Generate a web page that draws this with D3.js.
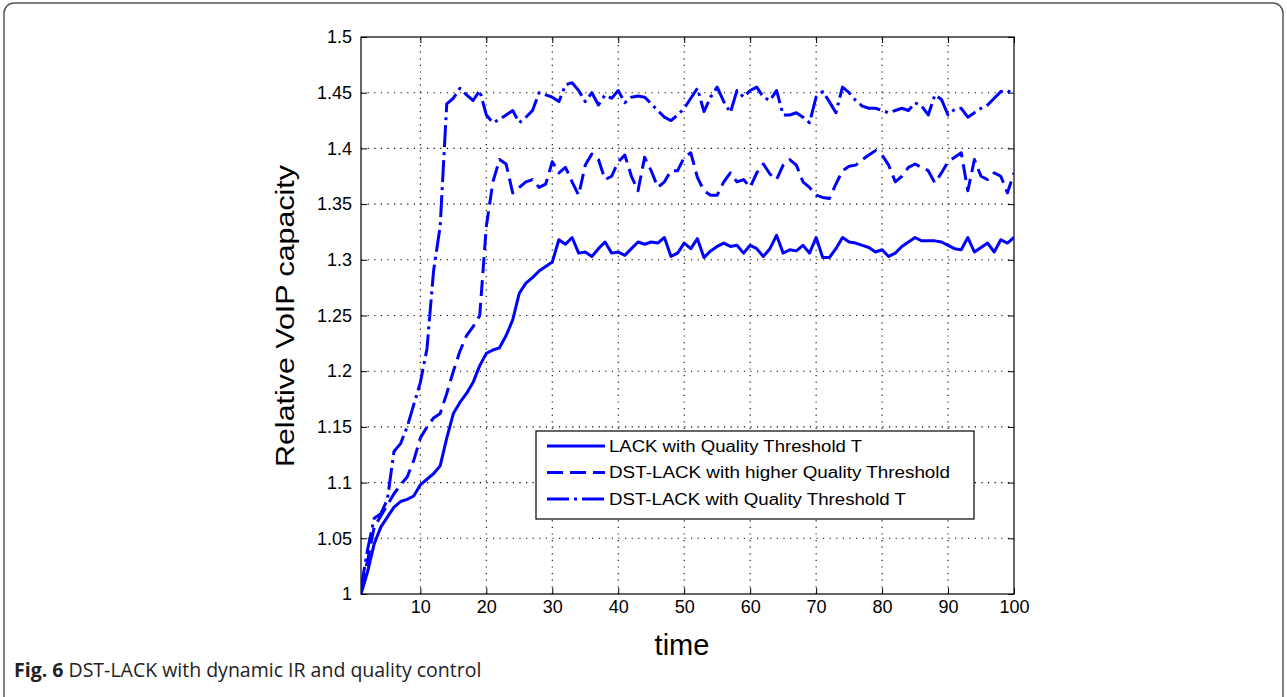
<!DOCTYPE html>
<html>
<head>
<meta charset="utf-8">
<script src="https://cdn.jsdelivr.net/npm/d3@7"></script>
<style>
  body { margin: 0; background: #fff; }
  svg { display: block; }
  .tick text { font-family: Arial, "Liberation Sans", sans-serif; font-size: 18px; fill: #000; }
</style>
</head>
<body>
<svg id="fig" width="1287" height="697"></svg>
<script>
// time steps 1..100
var time = d3.range(1, 101);

// LACK with Quality Threshold T (solid)
var lack = [1.000, 1.020, 1.045, 1.060, 1.069, 1.078, 1.083, 1.085, 1.088, 1.098,
            1.103, 1.108, 1.115, 1.140, 1.162, 1.172, 1.180, 1.190, 1.205, 1.216,
            1.219, 1.221, 1.232, 1.246, 1.270, 1.279, 1.284, 1.290, 1.294, 1.298,
            1.318, 1.314, 1.320, 1.306, 1.307, 1.303, 1.310, 1.316, 1.306, 1.307,
            1.304, 1.310, 1.316, 1.314, 1.316, 1.315, 1.320, 1.303, 1.306, 1.315,
            1.310, 1.319, 1.302, 1.308, 1.312, 1.315, 1.312, 1.313, 1.306, 1.313,
            1.310, 1.303, 1.310, 1.322, 1.306, 1.309, 1.308, 1.313, 1.306, 1.320,
            1.302, 1.302, 1.310, 1.320, 1.316, 1.315, 1.313, 1.311, 1.307, 1.309,
            1.303, 1.306, 1.312, 1.316, 1.320, 1.317, 1.317, 1.317, 1.316, 1.313,
            1.310, 1.309, 1.320, 1.307, 1.311, 1.315, 1.307, 1.318, 1.315, 1.320];

// DST-LACK with higher Quality Threshold (dashed)
var dstHigher = [1.005, 1.030, 1.060, 1.070, 1.080, 1.090, 1.098, 1.105, 1.120, 1.140,
                 1.150, 1.158, 1.162, 1.180, 1.200, 1.218, 1.232, 1.240, 1.250, 1.330,
                 1.370, 1.390, 1.386, 1.360, 1.365, 1.370, 1.372, 1.365, 1.368, 1.388,
                 1.378, 1.383, 1.370, 1.358, 1.385, 1.395, 1.390, 1.372, 1.375, 1.388,
                 1.394, 1.375, 1.362, 1.392, 1.380, 1.365, 1.370, 1.380, 1.380, 1.392,
                 1.396, 1.374, 1.362, 1.358, 1.358, 1.370, 1.378, 1.370, 1.372, 1.365,
                 1.378, 1.386, 1.377, 1.372, 1.385, 1.390, 1.385, 1.370, 1.365, 1.358,
                 1.356, 1.355, 1.368, 1.380, 1.384, 1.385, 1.390, 1.394, 1.398, 1.394,
                 1.385, 1.370, 1.375, 1.383, 1.386, 1.383, 1.380, 1.369, 1.378, 1.388,
                 1.392, 1.396, 1.362, 1.390, 1.375, 1.372, 1.378, 1.375, 1.360, 1.378];

// DST-LACK with Quality Threshold T (dash-dot)
var dstT = [1.005, 1.040, 1.068, 1.072, 1.085, 1.128, 1.135, 1.150, 1.170, 1.190,
            1.220, 1.290, 1.330, 1.440, 1.445, 1.454, 1.448, 1.443, 1.452, 1.430,
            1.423, 1.426, 1.430, 1.434, 1.423, 1.428, 1.434, 1.450, 1.448, 1.446,
            1.442, 1.457, 1.459, 1.452, 1.442, 1.450, 1.439, 1.448, 1.445, 1.452,
            1.441, 1.446, 1.447, 1.446, 1.440, 1.434, 1.428, 1.425, 1.430, 1.436,
            1.445, 1.454, 1.433, 1.446, 1.455, 1.442, 1.432, 1.452, 1.446, 1.452,
            1.455, 1.446, 1.443, 1.452, 1.430, 1.430, 1.432, 1.428, 1.423, 1.446,
            1.451, 1.442, 1.432, 1.455, 1.450, 1.443, 1.438, 1.436, 1.436, 1.434,
            1.432, 1.434, 1.436, 1.434, 1.441, 1.438, 1.430, 1.448, 1.444, 1.430,
            1.435, 1.436, 1.428, 1.432, 1.436, 1.439, 1.445, 1.451, 1.452, 1.448];

var xTicks = [10, 20, 30, 40, 50, 60, 70, 80, 90, 100];
var yTicks = [1, 1.05, 1.1, 1.15, 1.2, 1.25, 1.3, 1.35, 1.4, 1.45, 1.5];
var yTickLabels = ["1", "1.05", "1.1", "1.15", "1.2", "1.25", "1.3", "1.35", "1.4", "1.45", "1.5"];
var legendLabels = ["LACK with Quality Threshold T",
                    "DST-LACK with higher Quality Threshold",
                    "DST-LACK with Quality Threshold T"];

(function(){
    var svg = d3.select('#fig');
    var pLeft = 361, pRight = 1014, pTop = 37, pBottom = 594;
    var blue = '#0000ff';
    var dashes = [null, '16,7', '22,5,3,5'];
    var legendWidths = [253, 341, 297];

    var x = d3.scaleLinear().domain([1, 100]).range([pLeft, pRight]);
    var y = d3.scaleLinear().domain([1, 1.5]).range([pBottom, pTop]);

    // outer figure frame
    svg.append('rect').attr('x', 4).attr('y', 3).attr('width', 1279).attr('height', 704)
        .attr('rx', 10).attr('fill', 'none').attr('stroke', '#555').attr('stroke-width', 1.5);

    // dotted grid
    var grid = svg.append('g').attr('stroke', '#000').attr('stroke-width', 1.1).attr('stroke-dasharray', '1.2,5.4');
    grid.selectAll('.vg').data(xTicks.slice(0, -1)).enter().append('line').attr('class', 'vg')
        .attr('x1', function(d){ return x(d); }).attr('x2', function(d){ return x(d); })
        .attr('y1', pBottom).attr('y2', pTop);
    grid.selectAll('.hg').data(yTicks.slice(1, -1)).enter().append('line').attr('class', 'hg')
        .attr('y1', function(d){ return y(d); }).attr('y2', function(d){ return y(d); })
        .attr('x1', pLeft).attr('x2', pRight);

    // axes, ticks pointing inwards like matlab
    svg.append('g').attr('transform', 'translate(0,' + pBottom + ')')
        .call(d3.axisBottom(x).tickValues(xTicks).tickSizeInner(-6).tickSizeOuter(0).tickPadding(6));
    svg.append('g').attr('transform', 'translate(' + pLeft + ',0)')
        .call(d3.axisLeft(y).tickValues(yTicks).tickSizeInner(-6).tickSizeOuter(0).tickPadding(9)
            .tickFormat(function(d, i){ return yTickLabels[i]; }));
    svg.append('g').attr('transform', 'translate(0,' + pTop + ')')
        .call(d3.axisTop(x).tickValues(xTicks).tickSizeInner(-6).tickSizeOuter(0).tickFormat(''));
    svg.append('g').attr('transform', 'translate(' + pRight + ',0)')
        .call(d3.axisRight(y).tickValues(yTicks).tickSizeInner(-6).tickSizeOuter(0).tickFormat(''));
    svg.selectAll('.domain').remove();
    svg.selectAll('.tick line').attr('stroke', '#000');

    svg.append('rect').attr('x', pLeft).attr('y', pTop).attr('width', pRight - pLeft).attr('height', pBottom - pTop)
        .attr('fill', 'none').attr('stroke', '#000').attr('stroke-width', 1.2);

    // series
    svg.append('clipPath').attr('id', 'clip').append('rect')
        .attr('x', pLeft).attr('y', pTop).attr('width', pRight - pLeft).attr('height', pBottom - pTop);

    var series = [lack, dstHigher, dstT];
    var line = d3.line().x(function(d, i){ return x(time[i]); }).y(function(d){ return y(d); });
    var plot = svg.append('g').attr('clip-path', 'url(#clip)');
    series.forEach(function(s, k){
        plot.append('path').attr('d', line(s)).attr('fill', 'none').attr('stroke', blue)
            .attr('stroke-width', 3).attr('stroke-linejoin', 'round')
            .attr('stroke-dasharray', dashes[k]);
    });

    // legend
    var lg = svg.append('g');
    lg.append('rect').attr('x', 536).attr('y', 431).attr('width', 438).attr('height', 88)
        .attr('fill', '#fff').attr('stroke', '#000').attr('stroke-width', 1.2);
    legendLabels.forEach(function(lbl, k){
        var ly = 446 + k * 26.5;
        lg.append('line').attr('x1', 547).attr('x2', 605).attr('y1', ly).attr('y2', ly)
            .attr('stroke', blue).attr('stroke-width', 3).attr('stroke-dasharray', dashes[k]);
        lg.append('text').attr('x', 609).attr('y', ly).attr('dy', '0.36em')
            .attr('textLength', legendWidths[k]).attr('lengthAdjust', 'spacingAndGlyphs')
            .style('font-family', 'Arial, "Liberation Sans", sans-serif').style('font-size', '16px')
            .text(lbl);
    });

    // axis titles
    svg.append('text').attr('x', 682).attr('y', 655).attr('text-anchor', 'middle')
        .style('font-family', 'Arial, "Liberation Sans", sans-serif').style('font-size', '29px')
        .text('time');
    svg.append('text').attr('transform', 'translate(294,316)rotate(-90)').attr('text-anchor', 'middle')
        .attr('textLength', 302).attr('lengthAdjust', 'spacingAndGlyphs')
        .style('font-family', 'Arial, "Liberation Sans", sans-serif').style('font-size', '25px')
        .text('Relative VoIP capacity');

    // caption
    var cap = svg.append('text').attr('x', 14).attr('y', 677)
        .style('font-family', '"Open Sans", "Noto Sans", sans-serif').style('font-size', '19.5px').attr('fill', '#222');
    cap.append('tspan').style('font-weight', 'bold').text('Fig. 6');
    cap.append('tspan').text(' DST-LACK with dynamic IR and quality control');
})();
</script>
</body>
</html>
